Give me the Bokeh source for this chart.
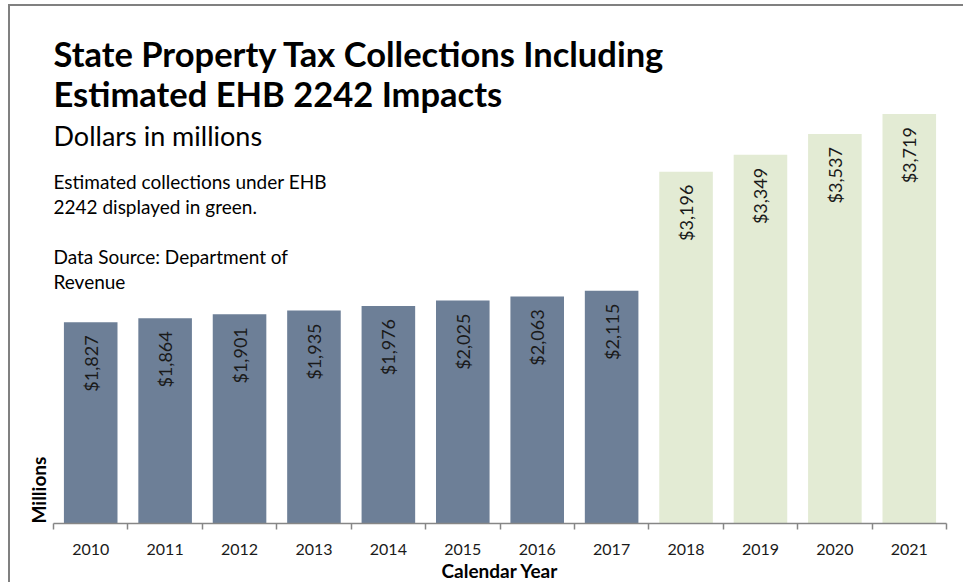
import math
from bokeh.plotting import figure
from bokeh.models import ColumnDataSource, Range1d, FixedTicker, Label, Title
from bokeh.core.properties import value
from bokeh.embed import file_html
from bokeh.resources import INLINE

# ---- data ----
years = ["2010", "2011", "2012", "2013", "2014", "2015", "2016", "2017",
         "2018", "2019", "2020", "2021"]
collections = [1827, 1864, 1901, 1935, 1976, 2025, 2063, 2115,
               3196, 3349, 3537, 3719]
series = ["actual"] * 8 + ["estimated"] * 4
labels = ["${:,}".format(v) for v in collections]

title_lines = ["State Property Tax Collections Including",
               "Estimated EHB 2242 Impacts"]
subtitle = "Dollars in millions"
note_lines = ["Estimated collections under EHB", "2242 displayed in green.",
              "", "Data Source: Department of", "Revenue"]

# ---- styling ----
FONT = "Lato"
colors = {"actual": "#6d7f97", "estimated": "#e3ebd4"}

xs = [i + 0.5 for i in range(len(years))]
src = ColumnDataSource(dict(x=xs, top=collections, label=labels,
                            color=[colors[s] for s in series]))

OX, OY = 10, 6            # canvas origin on page (after margin + border)
W, H = 955, 578
FRAME_L, FRAME_R, FRAME_T, FRAME_B = 53, 946, 6, 524  # page coords
PX_PER_UNIT = 0.1103
p = figure(width=W, height=H, output_backend="svg", toolbar_location=None,
           x_range=Range1d(0, len(years)),
           y_range=Range1d(0, (FRAME_B - FRAME_T) / PX_PER_UNIT),
           min_border_left=FRAME_L - OX, min_border_right=W + OX - FRAME_R,
           min_border_top=FRAME_T - OY, min_border_bottom=H + OY - FRAME_B)
p.outline_line_color = None
p.grid.visible = False
p.yaxis.visible = False
p.background_fill_color = "white"
p.border_fill_color = "white"

p.vbar(x="x", top="top", width=0.72, bottom=0, color="color", line_color=None, source=src)

p.text(x="x", y="top", text="label", source=src, angle=math.pi / 2,
       text_align="right", text_baseline="middle", y_offset=13,
       text_font=value(FONT), text_font_size="18px", text_color="#1a1a1a")

ax = p.xaxis[0]
ax.ticker = FixedTicker(ticks=xs, minor_ticks=list(range(len(years) + 1)))
ax.major_label_overrides = {x: y for x, y in zip(xs, years)}
ax.axis_line_color = "#868686"
ax.axis_line_width = 1.5
ax.major_tick_line_color = None
ax.major_tick_out = 0
ax.major_tick_in = 0
ax.minor_tick_line_color = "#868686"
ax.minor_tick_line_width = 1.5
ax.minor_tick_out = 6
ax.minor_tick_in = 0
ax.major_label_standoff = 14
ax.major_label_text_font = FONT
ax.major_label_text_font_size = "16px"
ax.major_label_text_color = "#1a1a1a"
ax.axis_label = "Calendar Year"
ax.axis_label_standoff = 1
ax.axis_label_text_font = FONT
ax.axis_label_text_font_size = "19px"
ax.axis_label_text_font_style = "bold"
ax.axis_label_text_color = "#000000"

# y-axis title, anchored at the bottom of the plot area
p.add_layout(Title(text="Millions", align="left", text_font=FONT,
                   text_font_size="19px", text_font_style="bold",
                   text_color="#000000", standoff=7, offset=0), "left")


def lab(text, px, py, size, bold=False):
    p.add_layout(Label(x=px - FRAME_L, y=FRAME_B - py, x_units="screen", y_units="screen",
                       text=text, text_font=FONT, text_font_size=size,
                       text_font_style="bold" if bold else "normal",
                       text_color="#000000", text_align="left",
                       text_baseline="alphabetic", level="overlay"))


# baseline targets corrected for the renderer's alphabetic offset (~1/3 em)
lab(title_lines[0], 53, 65 - 11, "34.5px", bold=True)
lab(title_lines[1], 53, 105 - 11, "34.5px", bold=True)
lab(subtitle, 53, 145 - 9, "27px")
for i, t in enumerate(note_lines):
    if t:
        lab(t, 53, 188 - 6 + 25 * i, "19px")

p.styles = {"border-top": "2px solid #808080", "border-left": "2px solid #808080",
            "margin-top": "4px", "margin-left": "8px"}

open("out.html", "w").write(file_html(p, INLINE))
